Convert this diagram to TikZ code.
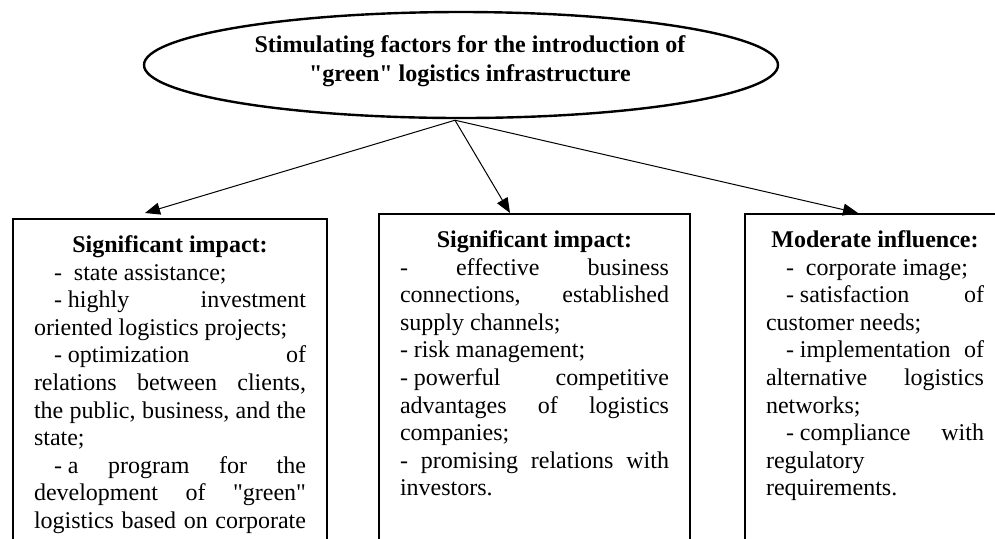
\documentclass[tikz,border=0pt]{standalone}
\usepackage{fontspec}
\setmainfont{Liberation Serif}[Ligatures=TeXOff]
\usetikzlibrary{shapes.geometric,arrows.meta,calc}
\newcommand\itm[1][3pt]{-\nobreak\hspace{#1}}
\newcommand\boxhead[1]{{\noindent\centering\textbf{#1}\par}}
\newenvironment{boxbody}[1]{\begin{minipage}[t][176pt][t]{#1}\fontsize{12}{13.8}\selectfont\setlength\parindent{10pt}\setlength\parskip{0pt}\tolerance=10000\relax}{\end{minipage}}
\begin{document}
\begin{tikzpicture}[x=0.5pt,y=-0.5pt,
  boxnode/.style={draw, line width=1pt, anchor=north west, inner xsep=10.5pt, inner ysep=8.3pt, font=\fontsize{12}{13.8}\selectfont},
  conn/.style={-{Triangle[length=7.5pt,width=6pt]}, line width=0.5pt},
  goalshape/.style={draw, ellipse, line width=1.2pt, minimum width=317pt, minimum height=53pt, inner sep=0pt},
  titletext/.style={inner sep=0pt, align=center, font=\fontsize{12}{14.5}\selectfont\bfseries}]
\useasboundingbox (0,0) rectangle (995,538);
\clip (0,0) rectangle (995,538);

\node[goalshape] (goal) at (461,65) {};
\node[titletext] (title) at (470,61) {Stimulating factors for the introduction of\\"green" logistics infrastructure};

\node[boxnode] (b1) at (12,218) {\begin{boxbody}{136pt}
\boxhead{Significant impact:}
\itm[6pt]state assistance;\par
\itm highly investment\linebreak oriented logistics projects;\par
\itm optimization of\linebreak relations between clients,\linebreak the public, business, and the\linebreak state;\par
\itm a program for the\linebreak development of "green"\linebreak logistics based on corporate\parfillskip=0pt\par
\end{boxbody}};

\node[boxnode] (b2) at (378,213) {\begin{boxbody}{134.5pt}
\boxhead{Significant impact:}
\noindent - effective business\linebreak connections, established\linebreak supply channels;\par
\noindent\itm risk management;\par
\noindent\itm powerful competitive\linebreak advantages of logistics\linebreak companies;\par
\noindent - promising relations with\linebreak investors.\par
\end{boxbody}};

\node[boxnode] (b3) at (744,213) {\begin{boxbody}{109pt}
\boxhead{Moderate influence:}
\itm[6pt]corporate image;\par
\itm satisfaction of\linebreak customer needs;\par
\itm implementation of\linebreak alternative logistics\linebreak networks;\par
\itm compliance with\linebreak regulatory\\ requirements.\par
\end{boxbody}};

\coordinate (src) at ($(goal.south)+(-6,1)$);
\draw[conn] (src) -- ($(b1.north west)+(133,-5)$);
\draw[conn] (src) -- ($(b2.north west)+(132,0)$);
\draw[conn] (src) -- ($(b3.north west)+(114,0)$);
\end{tikzpicture}
\end{document}
